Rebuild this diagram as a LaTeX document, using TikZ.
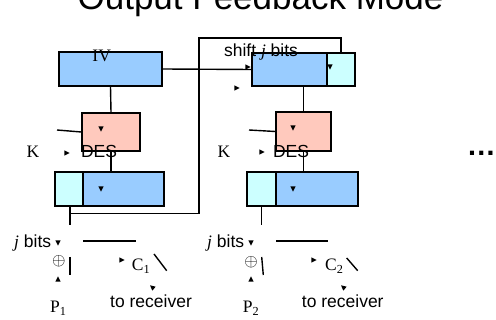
\documentclass[tikz,border=0pt]{standalone}
\usepackage{fontspec}
\setmainfont{Liberation Sans}
\newfontfamily\tms{Liberation Serif}
\usepackage{xcolor}
\definecolor{regblue}{HTML}{99CCFF}
\definecolor{regcyan}{HTML}{CCFFFF}
\definecolor{despink}{HTML}{FFC9BD}
\usetikzlibrary{positioning, calc}

\begin{document}
\begin{tikzpicture}[x=1pt,y=-1pt]
    \tikzset{
      blk/.style={draw,line width=1.6pt,inner sep=0,minimum height=34},
      bluebox/.style={blk,fill=regblue},
      cyanbox/.style={blk,fill=regcyan,minimum width=28},
      desbox/.style={blk,fill=despink},
      lbl/.style={font=\fontsize{17.5}{20}\selectfont,inner sep=0},
      serif/.style={lbl,font=\fontsize{17.5}{20}\selectfont\tms},
      wire/.style={line width=1.4pt},
      ahd/.pic={\fill (2.6,0) -- (-2.6,2.6) -- (-2.6,-2.6) -- cycle;}
    }
    \useasboundingbox (0,0) rectangle (496,320);
    \node[font=\fontsize{35}{40}\selectfont,anchor=base] (title) at (260.5,10) {Output Feedback Mode};

    \node[bluebox,minimum width=103] (iv) at (110.5,69) {};
    \node[serif,anchor=base] (ivt) at (101.7,62) {IV};
    \node[bluebox,minimum width=75,minimum height=33] (reg2b) at (289.5,69.5) {};
    \node[cyanbox,minimum height=33] (reg2c) at (341,69.5) {};

    \node[desbox,minimum width=58,minimum height=38] (des1) at (111,132) {};
    \node[desbox,minimum width=55,minimum height=39] (des2) at (303.5,131.5) {};

    \node[cyanbox] (out1c) at (69,189) {};
    \node[bluebox,minimum width=81] (out1b) at (123.5,189) {};
    \node[cyanbox,minimum width=29] (out2c) at (261.5,189) {};
    \node[bluebox,minimum width=82] (out2b) at (317,189) {};

    \coordinate (fb) at (199,38);
    \coordinate (k1) at (57,130);
    \coordinate (k2) at (249,130);

    \draw[wire] (iv.south) -- (des1.north);
    \draw[wire] (iv.east) -- (reg2b.west);
    \draw[wire] (des1.south) -- (des1.south |- out1b.north);
    \draw[wire] (des2.north |- reg2b.south) -- (des2.north);
    \draw[wire] (des2.south) -- (des2.south |- out2b.north);
    \draw[wire] (out1c.south) ++(2,7) -| (fb) -| (reg2c.north);
    \draw[wire] (out1c.south) ++(1,0) -- ++(0,18);
    \draw[wire] (out2c.south) -- ++(0,18);
    \draw[wire] (k1) -- (des1.west);
    \draw[wire] (k2) -- (des2.west);

    \node[lbl,anchor=base] (shift) at (261,57) {shift \textit{\tms j} bits};
    \node[serif,anchor=base] (key1) at (33,158) {K};
    \node[lbl,anchor=base] (des1t) at (99,158) {DES};
    \node[serif,anchor=base] (key2) at (224,158) {K};
    \node[lbl,anchor=base] (des2t) at (291,158) {DES};
    \node[font=\fontsize{29}{32}\selectfont\bfseries,inner sep=0,anchor=base east] (more) at (496,156) {…};

    \node[lbl,anchor=base west] (jb1) at (14,248) {\textit{\tms j} bits};
    \node[lbl,anchor=base west] (jb2) at (207,248) {\textit{\tms j} bits};
    \node[inner sep=0,font=\fontsize{16}{18}\selectfont] (xor1) at (58.8,261.5) {$\oplus$};
    \node[inner sep=0,font=\fontsize{16}{18}\selectfont] (xor2) at (251,262) {$\oplus$};
    \node[serif,anchor=base west] (p1) at (50,313) {P\textsubscript{1}};
    \node[serif,anchor=base west] (p2) at (242.7,313) {P\textsubscript{2}};
    \node[serif,anchor=base west] (c1) at (131.7,270.7) {C\textsubscript{1}};
    \node[serif,anchor=base west] (c2) at (325,270.7) {C\textsubscript{2}};
    \node[lbl,anchor=base west] (rcv1) at (110,308) {to receiver};
    \node[lbl,anchor=base west] (rcv2) at (301.7,308) {to receiver};

    \coordinate (h1a) at (83,241);
    \coordinate (h1b) at (136,241);
    \coordinate (h2a) at (276,241);
    \coordinate (h2b) at (328,241);
    \draw[wire] (h1a) -- (h1b);
    \draw[wire] (h2a) -- (h2b);
    \coordinate (v1a) at (70,257);
    \coordinate (v1b) at (70,275);
    \coordinate (v2a) at (261.7,257);
    \coordinate (v2b) at (263.3,275);
    \draw[wire] (v1a) -- (v1b);
    \draw[wire] (v2a) -- (v2b);
    \coordinate (s1a) at (154,254);
    \coordinate (s1b) at (166.7,270.7);
    \coordinate (s2a) at (346.7,258);
    \coordinate (s2b) at (357.7,270.7);
    \draw[wire] (s1a) -- (s1b);
    \draw[wire] (s2a) -- (s2b);

    \pic at (248,67) {ahd};
    \pic at (237,88) {ahd};
    \pic[rotate=-90] at (330,67) {ahd};
    \pic[rotate=-90] at (101,129) {ahd};
    \pic[rotate=-90] at (293,128) {ahd};
    \pic at (67,153) {ahd};
    \pic at (262,152) {ahd};
    \pic[rotate=-90] at (101,189) {ahd};
    \pic[rotate=-90] at (293,189) {ahd};
    \pic[rotate=-90] at (58,243) {ahd};
    \pic[rotate=-90] at (251,243) {ahd};
    \pic[rotate=90] at (58,279) {ahd};
    \pic[rotate=90] at (251,279) {ahd};
    \pic at (122,260) {ahd};
    \pic at (314,260) {ahd};
    \pic[rotate=140] at (152,287) {ahd};
    \pic[rotate=140] at (343,287) {ahd};
\end{tikzpicture}
\end{document}
